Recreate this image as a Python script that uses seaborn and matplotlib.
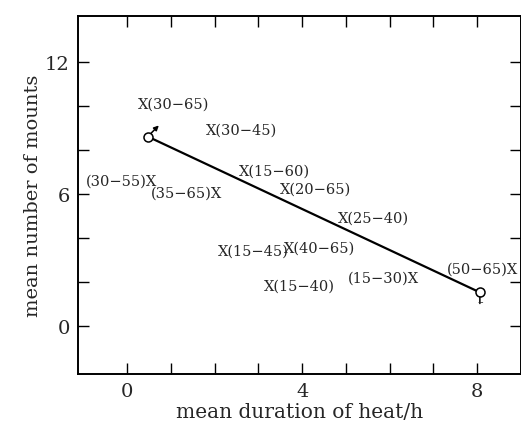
"""Mean number of mounts vs mean duration of heat."""
import os
os.environ.setdefault("MPLBACKEND", "Agg")
import matplotlib.pyplot as plt
from matplotlib.ticker import MultipleLocator, FixedLocator
import seaborn as sns
import pandas as pd

sns.set_theme(style="ticks")
plt.rcParams["font.family"] = ["DejaVu Serif"]

# groups: X position, label, which side the X sits on
grp_x = [0.37, 1.93, 2.69, 3.61, 0.56, 2.05, 4.95, 2.21, 3.72, 6.54, 8.80, 3.26]
grp_y = [10.1, 8.92, 7.09, 6.23, 6.60, 6.05, 4.94, 3.42, 3.55, 2.18, 2.62, 1.83]
grp_lab = ["(30\u221265)", "(30\u221245)", "(15\u221260)", "(20\u221265)", "(30\u221255)",
           "(35\u221265)", "(25\u221240)", "(15\u221245)", "(40\u221265)", "(15\u221230)",
           "(50\u221265)", "(15\u221240)"]
x_first = [True, True, True, True, False, False, True, True, True, False, False, True]

# regression line between male and female means
line_x = [0.47, 8.06]
line_y = [8.62, 1.53]


def main():
    df = pd.DataFrame({"x": line_x, "y": line_y})
    fig = plt.figure(figsize=(5.21, 4.39), dpi=100)
    ax = fig.add_axes([0.150, 0.146, 0.850, 0.815])

    sns.lineplot(data=df, x="x", y="y", color="black", lw=1.6, ax=ax)
    ax.plot(df.x, df.y, ls="none", marker="o", ms=6.5, mfc="white", mec="black", mew=1.1)

    # male sign arrow and female cross
    ax.annotate("", xy=(line_x[0], line_y[0]), xytext=(8, 8), textcoords="offset points",
                arrowprops=dict(arrowstyle="<|-", color="black", lw=1.1,
                                shrinkA=0, shrinkB=3.2, mutation_scale=7))
    ax.annotate("", xy=(line_x[1], line_y[1]), xytext=(0, -8), textcoords="offset points",
                arrowprops=dict(arrowstyle="-", color="black", lw=1.1, shrinkA=0, shrinkB=3.2))
    ax.annotate("\u2013", xy=(line_x[1], line_y[1]), xytext=(0, -6.5), textcoords="offset points",
                ha="center", va="center", fontsize=8)

    for x, y, lab, xf in zip(grp_x, grp_y, grp_lab, x_first):
        if xf:
            ax.annotate("X" + lab, (x, y), xytext=(-4, 0), textcoords="offset points",
                        ha="left", va="center", fontsize=10.5)
        else:
            ax.annotate(lab + "X", (x, y), xytext=(4, 0), textcoords="offset points",
                        ha="right", va="center", fontsize=10.5)

    ax.set_xlim(-1.12, 9.0)
    ax.set_ylim(-2.18, 14.1)
    ax.xaxis.set_major_locator(MultipleLocator(4))
    ax.xaxis.set_minor_locator(FixedLocator(range(0, 9)))
    ax.yaxis.set_major_locator(MultipleLocator(6))
    ax.yaxis.set_minor_locator(FixedLocator(range(0, 13, 2)))
    ax.tick_params(which="both", direction="in", top=True, right=True, length=8,
                   width=1, color="black", labelsize=14, pad=6)
    for s in ax.spines.values():
        s.set_linewidth(1.4)
        s.set_color("black")
    ax.set_xlabel("mean duration of heat/h", fontsize=14.5, labelpad=1)
    ax.set_ylabel("mean number of mounts", fontsize=14, labelpad=2)
    ax.grid(False)

    fig.savefig("out.png", dpi=100)
    plt.close(fig)


if __name__ == "__main__":
    main()
